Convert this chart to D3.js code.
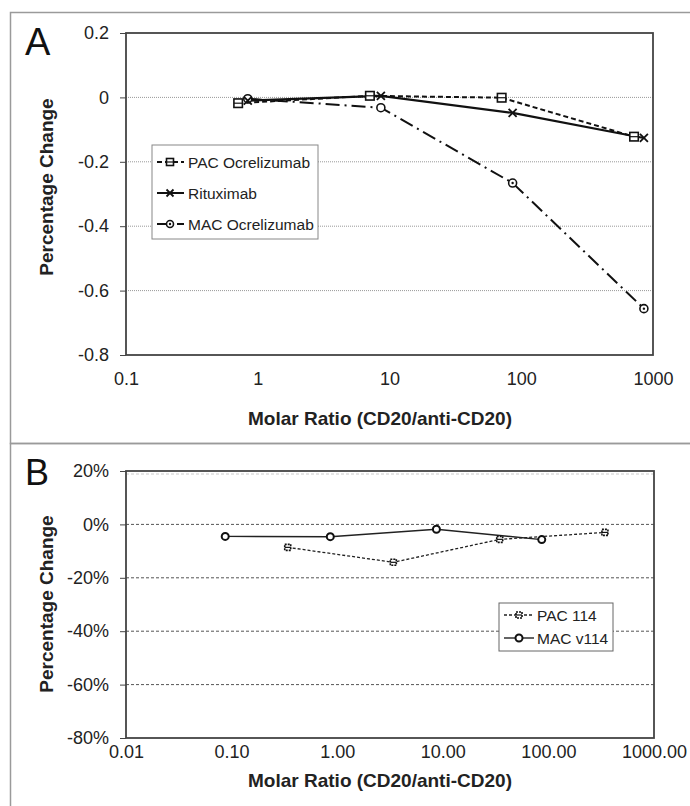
<!DOCTYPE html>
<html>
<head>
<meta charset="utf-8">
<script src="https://cdn.jsdelivr.net/npm/d3@7"></script>
<style>
  body { margin: 0; background: #fff; }
  svg { display: block; font-family: "Liberation Sans", Arial, sans-serif; }
</style>
</head>
<body>
<svg id="chart" width="690" height="806"></svg>
<script>
// Panel A data
const aPacX = [0.71, 7.1, 71, 718];
const aPacY = [-0.018, 0.005, -0.001, -0.122];
const aRitX = [0.84, 8.6, 86, 853];
const aRitY = [-0.01, 0.005, -0.048, -0.126];
const aMacX = [0.84, 8.6, 86, 853];
const aMacY = [-0.004, -0.032, -0.266, -0.656];
const aYTicks = [0.2, 0, -0.2, -0.4, -0.6, -0.8];
const aXTicks = [0.1, 1, 10, 100, 1000];

// Panel B data
const bPacX = [0.34, 3.4, 34.6, 343];
const bPacY = [-0.086, -0.142, -0.056, -0.030];
const bMacX = [0.087, 0.86, 8.7, 86.5];
const bMacY = [-0.045, -0.046, -0.018, -0.057];
const bYTicks = [0.2, 0, -0.2, -0.4, -0.6, -0.8];
const bXTicks = [0.01, 0.1, 1, 10, 100, 1000];

const svg = d3.select("#chart");

// outer frames
svg.append("rect").attr("x", 10.5).attr("y", 12.5).attr("width", 700).attr("height", 431)
  .attr("fill", "none").attr("stroke", "#9a9a9a").attr("stroke-width", 1.5);
svg.append("rect").attr("x", 10.5).attr("y", 443.5).attr("width", 700).attr("height", 400)
  .attr("fill", "none").attr("stroke", "#9a9a9a").attr("stroke-width", 1.5);

function square(g, x, y, s, dash) {
  g.append("rect").attr("x", x - s / 2).attr("y", y - s / 2).attr("width", s).attr("height", s)
    .attr("fill", "#fff").attr("stroke", "#111").attr("stroke-width", 1.6)
    .attr("stroke-dasharray", dash || null);
  g.append("line").attr("x1", x - s / 2).attr("x2", x + s / 2).attr("y1", y).attr("y2", y)
    .attr("stroke", "#111").attr("stroke-width", 1.2);
}
function cross(g, x, y, s) {
  g.append("path").attr("d", `M${x - s},${y - s}L${x + s},${y + s}M${x - s},${y + s}L${x + s},${y - s}`)
    .attr("stroke", "#111").attr("stroke-width", 1.8);
}
function circle(g, x, y, r, dot, sw) {
  g.append("circle").attr("cx", x).attr("cy", y).attr("r", r)
    .attr("fill", "#fff").attr("stroke", "#111").attr("stroke-width", sw || 1.6);
  if (dot) g.append("circle").attr("cx", x).attr("cy", y).attr("r", 1.2).attr("fill", "#111");
}

// ---------- Panel A ----------
{
  const L = 126, R = 653, T = 33, B = 355;
  const x = d3.scaleLog().domain([0.1, 1000]).range([L, R]);
  const y = d3.scaleLinear().domain([-0.8, 0.2]).range([B, T]);
  const g = svg.append("g");

  // gridlines
  g.selectAll("line.grid").data(aYTicks.filter(d => d > -0.8 && d < 0.2)).join("line")
    .attr("x1", L).attr("x2", R).attr("y1", d => y(d)).attr("y2", d => y(d))
    .attr("stroke", "#999").attr("stroke-width", 1).attr("stroke-dasharray", "1,1");

  const ya = g.append("g").attr("transform", `translate(${L},0)`)
    .call(d3.axisLeft(y).tickValues(aYTicks).tickSize(6).tickPadding(11)
      .tickFormat(d => d === 0 ? "0" : d3.format(".1f")(d).replace("−", "-")));
  ya.select(".domain").remove();
  ya.selectAll("line").attr("stroke", "#444");
  ya.selectAll("text").attr("font-size", 18).attr("fill", "#222");

  const xa = g.append("g").attr("transform", `translate(0,${B})`)
    .call(d3.axisBottom(x).tickValues(aXTicks).tickSize(0).tickPadding(17)
      .tickFormat(d3.format("~g")));
  xa.select(".domain").remove();
  xa.selectAll("text").attr("font-size", 18).attr("fill", "#222");

  g.append("rect").attr("x", L).attr("y", T).attr("width", R - L).attr("height", B - T)
    .attr("fill", "none").attr("stroke", "#444").attr("stroke-width", 1.8);

  const line = d3.line().x(d => x(d[0])).y(d => y(d[1]));
  g.append("path").datum(d3.zip(aMacX, aMacY)).attr("d", line).attr("fill", "none")
    .attr("stroke", "#111").attr("stroke-width", 2).attr("stroke-dasharray", "14,5,2,5");
  g.append("path").datum(d3.zip(aRitX, aRitY)).attr("d", line).attr("fill", "none")
    .attr("stroke", "#111").attr("stroke-width", 2.2);
  g.append("path").datum(d3.zip(aPacX, aPacY)).attr("d", line).attr("fill", "none")
    .attr("stroke", "#111").attr("stroke-width", 2).attr("stroke-dasharray", "5,3");

  aMacX.forEach((v, i) => circle(g, x(v), y(aMacY[i]), 4, i > 1));
  aPacX.forEach((v, i) => square(g, x(v), y(aPacY[i]), 8.5));
  aRitX.forEach((v, i) => cross(g, x(v), y(aRitY[i]), 4));

  // legend
  const lg = g.append("g");
  lg.append("rect").attr("x", 152).attr("y", 145).attr("width", 166).attr("height", 94)
    .attr("fill", "#fff").attr("stroke", "#888").attr("stroke-width", 1);
  const items = [
    { name: "PAC Ocrelizumab", y: 162, dash: "5,3", mark: "sq" },
    { name: "Rituximab", y: 193, dash: null, mark: "x" },
    { name: "MAC Ocrelizumab", y: 224, dash: "10,4,2,4", mark: "ci" }
  ];
  items.forEach(it => {
    lg.append("line").attr("x1", 157).attr("x2", 184).attr("y1", it.y).attr("y2", it.y)
      .attr("stroke", "#111").attr("stroke-width", 2).attr("stroke-dasharray", it.dash);
    if (it.mark === "sq") square(lg, 170, it.y, 7);
    if (it.mark === "x") cross(lg, 170, it.y, 3.5);
    if (it.mark === "ci") circle(lg, 170, it.y, 3.5, true);
    lg.append("text").attr("x", 188).attr("y", it.y + 5.5).attr("font-size", 15.5).attr("fill", "#222")
      .text(it.name);
  });

  svg.append("text").attr("x", 25).attr("y", 55).attr("font-size", 38).attr("fill", "#111").text("A");
  svg.append("text").attr("x", 380).attr("y", 425).attr("text-anchor", "middle")
    .attr("font-size", 19).attr("font-weight", "bold").attr("fill", "#222")
    .text("Molar Ratio (CD20/anti-CD20)");
  svg.append("text").attr("transform", `translate(53,${187}) rotate(-90)`)
    .attr("text-anchor", "middle").attr("font-size", 19).attr("font-weight", "bold").attr("fill", "#222")
    .text("Percentage Change");
}

// ---------- Panel B ----------
{
  const L = 126, R = 654, T = 471, B = 738;
  const x = d3.scaleLog().domain([0.01, 1000]).range([L, R]);
  const y = d3.scaleLinear().domain([-0.8, 0.2]).range([B, T]);
  const g = svg.append("g");

  g.selectAll("line.grid").data(bYTicks.filter(d => d > -0.8)).join("line")
    .attr("x1", L).attr("x2", R).attr("y1", d => y(d) + (d === 0.2 ? 3 : 0)).attr("y2", d => y(d) + (d === 0.2 ? 3 : 0))
    .attr("stroke", d => d === 0.2 ? "#ccc" : "#555").attr("stroke-width", 1).attr("stroke-dasharray", "3,2");

  const ya = g.append("g").attr("transform", `translate(${L},0)`)
    .call(d3.axisLeft(y).tickValues(bYTicks).tickSize(6).tickPadding(11)
      .tickFormat(d => d3.format(".0%")(d).replace("−", "-")));
  ya.select(".domain").remove();
  ya.selectAll("line").attr("stroke", "#444");
  ya.selectAll("text").attr("font-size", 18).attr("fill", "#222");

  const xa = g.append("g").attr("transform", `translate(0,${B})`)
    .call(d3.axisBottom(x).tickValues(bXTicks).tickSize(0).tickPadding(7)
      .tickFormat(d3.format(".2f")));
  xa.select(".domain").remove();
  xa.selectAll("text").attr("font-size", 18).attr("fill", "#222");

  g.append("rect").attr("x", L).attr("y", T).attr("width", R - L).attr("height", B - T)
    .attr("fill", "none").attr("stroke", "#444").attr("stroke-width", 1.8);

  const line = d3.line().x(d => x(d[0])).y(d => y(d[1]));
  g.append("path").datum(d3.zip(bPacX, bPacY)).attr("d", line).attr("fill", "none")
    .attr("stroke", "#222").attr("stroke-width", 1.3).attr("stroke-dasharray", "3,2");
  g.append("path").datum(d3.zip(bMacX, bMacY)).attr("d", line).attr("fill", "none")
    .attr("stroke", "#222").attr("stroke-width", 1.4);

  bPacX.forEach((v, i) => square(g, x(v), y(bPacY[i]), 6, "2,1"));
  bMacX.forEach((v, i) => circle(g, x(v), y(bMacY[i]), 3.5, false, 2));

  const lg = g.append("g");
  lg.append("rect").attr("x", 499).attr("y", 603).attr("width", 114).attr("height", 48)
    .attr("fill", "#fff").attr("stroke", "#666").attr("stroke-width", 1);
  lg.append("line").attr("x1", 504).attr("x2", 534).attr("y1", 615).attr("y2", 615)
    .attr("stroke", "#222").attr("stroke-width", 1.3).attr("stroke-dasharray", "3,2");
  square(lg, 519, 615, 6, "2,1");
  lg.append("text").attr("x", 537).attr("y", 620.5).attr("font-size", 15.5).attr("fill", "#222").text("PAC 114");
  lg.append("line").attr("x1", 504).attr("x2", 534).attr("y1", 638).attr("y2", 638)
    .attr("stroke", "#222").attr("stroke-width", 1.4);
  circle(lg, 519, 638, 3.5, false, 2);
  lg.append("text").attr("x", 537).attr("y", 643.5).attr("font-size", 15.5).attr("fill", "#222").text("MAC v114");

  svg.append("text").attr("x", 25).attr("y", 485).attr("font-size", 36).attr("fill", "#111").text("B");
  svg.append("text").attr("x", 380).attr("y", 787).attr("text-anchor", "middle")
    .attr("font-size", 19).attr("font-weight", "bold").attr("fill", "#222")
    .text("Molar Ratio (CD20/anti-CD20)");
  svg.append("text").attr("transform", `translate(53,${604}) rotate(-90)`)
    .attr("text-anchor", "middle").attr("font-size", 19).attr("font-weight", "bold").attr("fill", "#222")
    .text("Percentage Change");
}
</script>
</body>
</html>
